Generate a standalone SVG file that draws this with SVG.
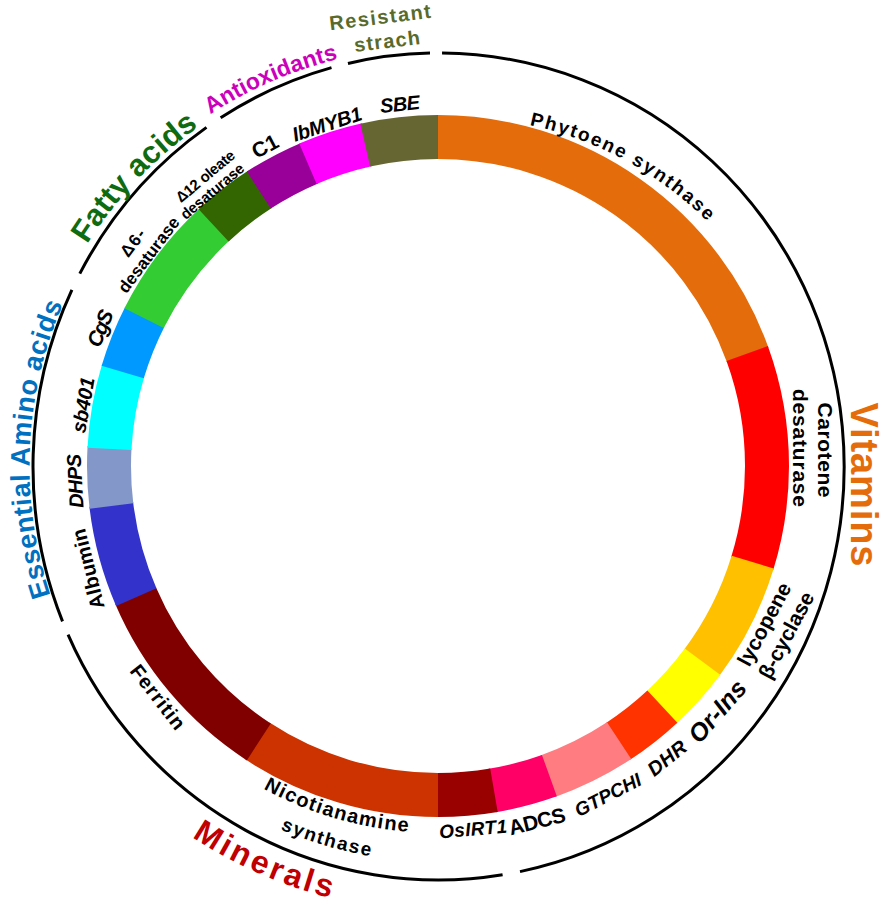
<svg xmlns="http://www.w3.org/2000/svg" width="884" height="905" viewBox="0 0 884 905">
<style>
.seg{fill:none;stroke-width:44}
.arc{fill:none;stroke:#000;stroke-width:3}
.g{font-family:"Liberation Sans",Arial,sans-serif;font-weight:bold;fill:#000;text-anchor:middle;dominant-baseline:central}
.i{font-style:italic}
.cat{font-family:"Liberation Sans",Arial,sans-serif;font-weight:bold;text-anchor:middle}
</style>
<defs>
<path id="pPhy" d="M 529.4,125 A 360 360 0 0 1 708.5,222.5"/>
<path id="pEAA" d="M 438,874.5 A 408.5 408.5 0 0 1 438,57.5 A 408.5 408.5 0 0 1 438,874.5"/>
<path id="pFat" d="M 438,881 A 415 415 0 0 1 438,51 A 415 415 0 0 1 438,881"/>
<path id="pAnt" d="M 438,885 A 419 419 0 0 1 438,47 A 419 419 0 0 1 438,885"/>
<path id="pNic" d="M 438,99 A 367 367 0 0 0 438,833 A 367 367 0 0 0 438,99"/>
<path id="pSyn" d="M 438,70 A 396 396 0 0 0 438,862 A 396 396 0 0 0 438,70"/>
<path id="pMin" d="M 19.8,618.2 A 445 445 0 0 0 345.5,901.3"/>
</defs>
<rect width="884" height="905" fill="#fff"/>

<g id="ring" transform="rotate(-90 438 466)">
<g id="phytoene-synthase"><circle class="seg" cx="438" cy="466" r="329" pathLength="360" stroke="#E46C0A" stroke-dasharray="70.3 360" stroke-dashoffset="0"/></g>
<g id="carotene-desaturase"><circle class="seg" cx="438" cy="466" r="329" pathLength="360" stroke="#FF0000" stroke-dasharray="37.3 360" stroke-dashoffset="-70"/></g>
<g id="lycopene-cyclase"><circle class="seg" cx="438" cy="466" r="329" pathLength="360" stroke="#FFC000" stroke-dasharray="19.8 360" stroke-dashoffset="-107"/></g>
<g id="or-ins"><circle class="seg" cx="438" cy="466" r="329" pathLength="360" stroke="#FFFF00" stroke-dasharray="10.8 360" stroke-dashoffset="-126.5"/></g>
<g id="dhr"><circle class="seg" cx="438" cy="466" r="329" pathLength="360" stroke="#FF3300" stroke-dasharray="9.9 360" stroke-dashoffset="-137"/></g>
<g id="gtpchi"><circle class="seg" cx="438" cy="466" r="329" pathLength="360" stroke="#FF7C80" stroke-dasharray="13.9 360" stroke-dashoffset="-146.6"/></g>
<g id="adcs"><circle class="seg" cx="438" cy="466" r="329" pathLength="360" stroke="#FF0066" stroke-dasharray="10.3 360" stroke-dashoffset="-160.2"/></g>
<g id="osirt1"><circle class="seg" cx="438" cy="466" r="329" pathLength="360" stroke="#990000" stroke-dasharray="10.1 360" stroke-dashoffset="-170.2"/></g>
<g id="nicotianamine-synthase"><circle class="seg" cx="438" cy="466" r="329" pathLength="360" stroke="#CC3300" stroke-dasharray="33.3 360" stroke-dashoffset="-180"/></g>
<g id="ferritin"><circle class="seg" cx="438" cy="466" r="329" pathLength="360" stroke="#800000" stroke-dasharray="33.8 360" stroke-dashoffset="-213"/></g>
<g id="albumin"><circle class="seg" cx="438" cy="466" r="329" pathLength="360" stroke="#3333CC" stroke-dasharray="16.8 360" stroke-dashoffset="-246.5"/></g>
<g id="dhps"><circle class="seg" cx="438" cy="466" r="329" pathLength="360" stroke="#8497C9" stroke-dasharray="10.3 360" stroke-dashoffset="-263"/></g>
<g id="sb401"><circle class="seg" cx="438" cy="466" r="329" pathLength="360" stroke="#00FFFF" stroke-dasharray="13.9 360" stroke-dashoffset="-273"/></g>
<g id="cgs"><circle class="seg" cx="438" cy="466" r="329" pathLength="360" stroke="#0099FF" stroke-dasharray="10.4 360" stroke-dashoffset="-286.6"/></g>
<g id="d6-desaturase"><circle class="seg" cx="438" cy="466" r="329" pathLength="360" stroke="#33CC33" stroke-dasharray="20.6 360" stroke-dashoffset="-296.7"/></g>
<g id="d12-oleate-desaturase"><circle class="seg" cx="438" cy="466" r="329" pathLength="360" stroke="#336600" stroke-dasharray="10.3 360" stroke-dashoffset="-317"/></g>
<g id="c1"><circle class="seg" cx="438" cy="466" r="329" pathLength="360" stroke="#990099" stroke-dasharray="10 360" stroke-dashoffset="-327"/></g>
<g id="ibmyb1"><circle class="seg" cx="438" cy="466" r="329" pathLength="360" stroke="#FF00FF" stroke-dasharray="10.8 360" stroke-dashoffset="-336.7"/></g>
<g id="sbe"><circle class="seg" cx="438" cy="466" r="329" pathLength="360" stroke="#666633" stroke-dasharray="12.8 360" stroke-dashoffset="-347.2"/></g>
</g>

<g id="connectors">
<path class="arc" d="M 442.04,53.02 A 405.5 413.5 0 0 1 520.0,871.6"/>
<path class="arc" d="M 502.6,874.8 A 405.5 413.5 0 0 1 68.05,634.7"/>
<path class="arc" d="M 62.53,621.4 A 405.5 413.5 0 0 1 71.9,289.8"/>
<path class="arc" d="M 79.8,273.65 A 405.5 413.5 0 0 1 206.49,127.37"/>
<path class="arc" d="M 220.63,117.76 A 405.5 413.5 0 0 1 331.5,67.65"/>
<path class="arc" d="M 347.97,63.44 A 405.5 413.5 0 0 1 430.0,53.09"/>
</g>

<g id="gene-labels">
<text class="g" font-size="19" style="text-anchor:start;dominant-baseline:auto"><textPath href="#pPhy" startOffset="0" textLength="205">Phytoene synthase</textPath></text>
<text class="g" font-size="21" transform="translate(825,450) rotate(90)" textLength="95">Carotene</text>
<text class="g" font-size="21" transform="translate(800,448) rotate(90)" textLength="118">desaturase</text>
<text class="g" font-size="21" transform="translate(764,624) rotate(-62)" textLength="91">lycopene</text>
<text class="g" font-size="21" transform="translate(786,635) rotate(-62)" textLength="95">β-cyclase</text>
<text class="g i" font-size="25" transform="translate(717,711) rotate(-49)" textLength="74">Or-Ins</text>
<text class="g i" font-size="20" transform="translate(667,758) rotate(-39)" textLength="44">DHR</text>
<text class="g i" font-size="19" transform="translate(608,795) rotate(-27)" textLength="72">GTPCHI</text>
<text class="g" font-size="21" transform="translate(537,821) rotate(-14)" textLength="58">ADCS</text>
<text class="g i" font-size="19" transform="translate(473,829) rotate(-5)" textLength="68">OsIRT1</text>
<text class="g" font-size="20" style="dominant-baseline:auto"><textPath href="#pNic" startOffset="1046.2" textLength="152">Nicotianamine</textPath></text>
<text class="g" font-size="19" style="dominant-baseline:auto"><textPath href="#pSyn" startOffset="1128" textLength="94">synthase</textPath></text>
<text class="g" font-size="20" transform="translate(158,697) rotate(52)" textLength="76">Ferritin</text>
<text class="g" font-size="20" transform="translate(88,569) rotate(-104)" textLength="82">Albumin</text>
<text class="g i" font-size="20" transform="translate(75,481) rotate(-93)" textLength="54">DHPS</text>
<text class="g i" font-size="20" transform="translate(83,405) rotate(-80)" textLength="56">sb401</text>
<text class="g i" font-size="21" transform="translate(100,328) rotate(-68)" textLength="38">CgS</text>
<text class="g" font-size="17" transform="translate(133,243) rotate(-53)" textLength="30">Δ6-</text>
<text class="g" font-size="17" transform="translate(149,255) rotate(-53)" textLength="90">desaturase</text>
<text class="g" font-size="15" transform="translate(205,176) rotate(-40)" textLength="72">Δ12 oleate</text>
<text class="g" font-size="15" transform="translate(212,191) rotate(-40)" textLength="78">desaturase</text>
<text class="g" font-size="21" transform="translate(265,146) rotate(-28)" textLength="27">C1</text>
<text class="g i" font-size="20" transform="translate(327,124) rotate(-18)" textLength="72">IbMYB1</text>
<text class="g i" font-size="20" transform="translate(400,104) rotate(-6)" textLength="40">SBE</text>
</g>

<g id="category-labels">
<text class="cat" font-size="38" fill="#E46C0A" transform="translate(863.5,484.5) rotate(90)" dominant-baseline="central" textLength="164">Vitamins</text>
<text class="cat" font-size="32" fill="#C00000"><textPath href="#pMin" startOffset="358.8" textLength="152">Minerals</textPath></text>
<text class="cat" font-size="27" fill="#0070C0"><textPath href="#pEAA" startOffset="658.8" textLength="298">Essential Amino acids</textPath></text>
<text class="cat" font-size="31" fill="#0F6B0F"><textPath href="#pFat" startOffset="966.9" textLength="163">Fatty acids</textPath></text>
<text class="cat" font-size="23" fill="#CC00BB"><textPath href="#pAnt" startOffset="1145.2" textLength="140">Antioxidants</textPath></text>
<text class="cat" font-size="20" fill="#5A6A2A" transform="translate(380,17) rotate(-7)" dominant-baseline="central" textLength="102">Resistant</text>
<text class="cat" font-size="20" fill="#5A6A2A" transform="translate(387,41) rotate(-7)" dominant-baseline="central" textLength="66">strach</text>
</g>
</svg>
